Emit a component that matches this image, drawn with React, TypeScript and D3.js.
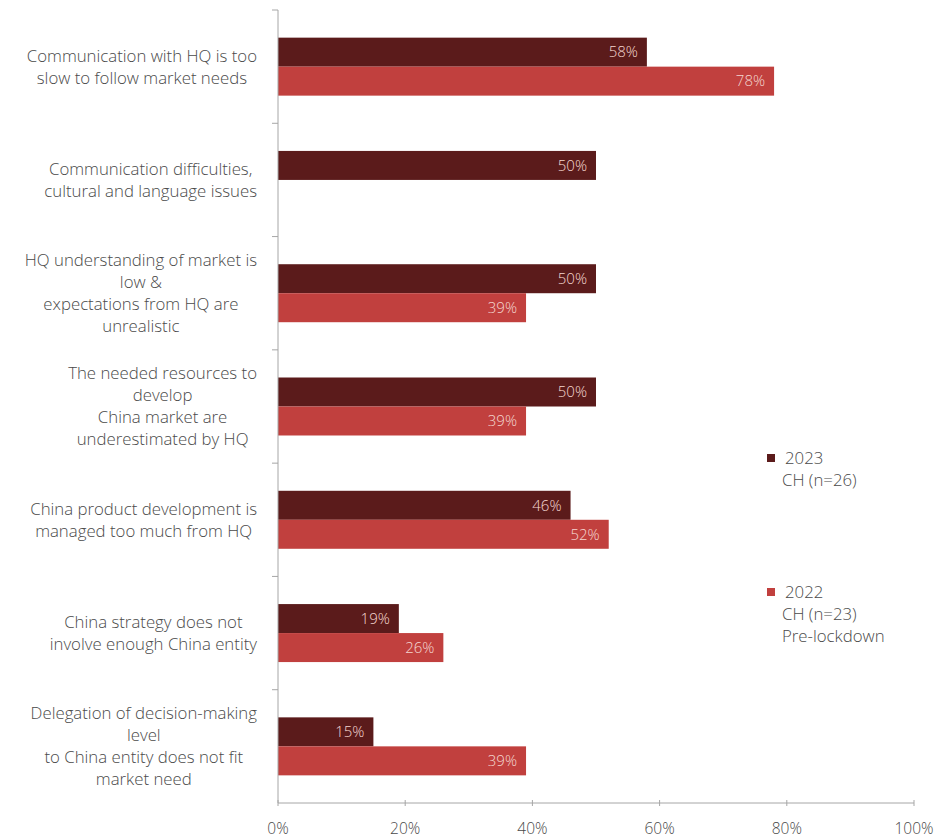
import React, { useEffect, useRef } from "react";
import * as d3 from "d3";

const categories: string[][] = [
  ["Communication with HQ is too", "slow to follow market needs"],
  ["Communication difficulties,", "cultural and language issues"],
  ["HQ understanding of market is", "low &", "expectations from HQ are", "unrealistic"],
  ["The needed resources to", "develop", "China market are", "underestimated by HQ"],
  ["China product development is", "managed too much from HQ"],
  ["China strategy does not", "involve enough China entity"],
  ["Delegation of decision-making", "level", "to China entity does not fit", "market need"],
];
const values2023: (number | null)[] = [58, 50, 50, 50, 46, 19, 15];
const values2022: (number | null)[] = [78, null, 39, 39, 52, 26, 39];
const seriesKeys = ["2023", "2022"];
const seriesColors = ["#5b1b1b", "#c1403e"];
const legendLines: string[][] = [
  ["2023", "CH (n=26)"],
  ["2022", "CH (n=23)", "Pre-lockdown"],
];
const xTicks = [0, 20, 40, 60, 80, 100];

const W = 947;
const H = 838;
const FONT = "'Open Sans', 'Noto Sans', sans-serif";
const TEXT = "#4a4a4a";

export default function App() {
  const ref = useRef<SVGSVGElement | null>(null);

  useEffect(() => {
    const svg = d3.select(ref.current);
    svg.selectAll("*").remove();

    const x = d3.scaleLinear().domain([0, 100]).range([278, 914]);
    const ids = categories.map((_, i) => String(i));
    const pad = 1 - 58 / 113.3;
    const y = d3
      .scaleBand<string>()
      .domain(ids)
      .range([10, 803])
      .paddingInner(pad)
      .paddingOuter(pad / 2);
    const ys = d3.scaleBand<string>().domain(seriesKeys).range([0, y.bandwidth()]);
    const step = y.step();

    // bars
    const series = [values2023, values2022];
    series.forEach((vals, si) => {
      const g = svg.append("g");
      vals.forEach((v, i) => {
        if (v == null) return;
        const yy = (y(String(i)) as number) + (ys(seriesKeys[si]) as number);
        g.append("rect")
          .attr("x", x(0))
          .attr("y", yy)
          .attr("width", x(v) - x(0))
          .attr("height", ys.bandwidth())
          .attr("fill", seriesColors[si]);
        g.append("text")
          .attr("x", x(v) - 9)
          .attr("y", yy + ys.bandwidth() / 2)
          .attr("dy", "0.35em")
          .attr("text-anchor", "end")
          .attr("font-family", FONT)
          .attr("font-weight", 300)
          .attr("font-size", 15)
          .attr("fill", "#f4d6d0")
          .text(`${v}%`);
      });
    });

    // y axis line + boundary ticks
    const axisColor = "#a6a6a6";
    svg
      .append("line")
      .attr("x1", x(0))
      .attr("x2", x(0))
      .attr("y1", 10)
      .attr("y2", 803)
      .attr("stroke", axisColor);
    d3.range(categories.length).forEach((i) => {
      const yy = 10 + i * step;
      svg
        .append("line")
        .attr("x1", x(0) - 6)
        .attr("x2", x(0))
        .attr("y1", yy)
        .attr("y2", yy)
        .attr("stroke", axisColor);
    });

    // x axis
    svg
      .append("line")
      .attr("x1", x(0))
      .attr("x2", x(100))
      .attr("y1", 803)
      .attr("y2", 803)
      .attr("stroke", axisColor);
    xTicks.forEach((t) => {
      svg
        .append("line")
        .attr("x1", x(t))
        .attr("x2", x(t))
        .attr("y1", 800)
        .attr("y2", 806)
        .attr("stroke", axisColor);
      svg
        .append("text")
        .attr("x", x(t))
        .attr("y", 829)
        .attr("dy", "0.35em")
        .attr("text-anchor", "middle")
        .attr("font-family", FONT)
        .attr("font-weight", 300)
        .attr("font-size", 15.5)
        .attr("fill", TEXT)
        .text(`${t}%`);
    });

    // category labels
    const lh = 22;
    categories.forEach((lines, i) => {
      const cy = (y(String(i)) as number) + y.bandwidth() / 2;
      const g = svg.append("g");
      const texts = lines.map((l, k) =>
        g
          .append("text")
          .attr("y", cy + (k - (lines.length - 1) / 2) * lh)
          .attr("dy", "0.35em")
          .attr("text-anchor", "middle")
          .attr("font-family", FONT)
          .attr("font-weight", 300)
          .attr("font-size", 16.8)
          .attr("fill", TEXT)
          .text(l)
      );
      const maxW = d3.max(texts, (t) => (t.node() as SVGTextElement).getComputedTextLength()) || 0;
      const cx = 257 - maxW / 2;
      texts.forEach((t) => t.attr("x", cx));
    });

    // legend
    const legendTop = [458, 592];
    legendLines.forEach((lines, li) => {
      const ty = legendTop[li];
      svg
        .append("rect")
        .attr("x", 767)
        .attr("y", ty - 4)
        .attr("width", 8)
        .attr("height", 8)
        .attr("fill", seriesColors[li]);
      lines.forEach((l, k) => {
        svg
          .append("text")
          .attr("x", k === 0 ? 785 : 782)
          .attr("y", ty + k * 22)
          .attr("dy", "0.35em")
          .attr("font-family", FONT)
          .attr("font-weight", 300)
          .attr("font-size", 16.8)
          .attr("fill", TEXT)
          .text(l);
      });
    });
  }, []);

  return (
    <svg
      ref={ref}
      width={W}
      height={H}
      style={{ position: "absolute", left: 0, top: 0, background: "#fff" }}
    />
  );
}
